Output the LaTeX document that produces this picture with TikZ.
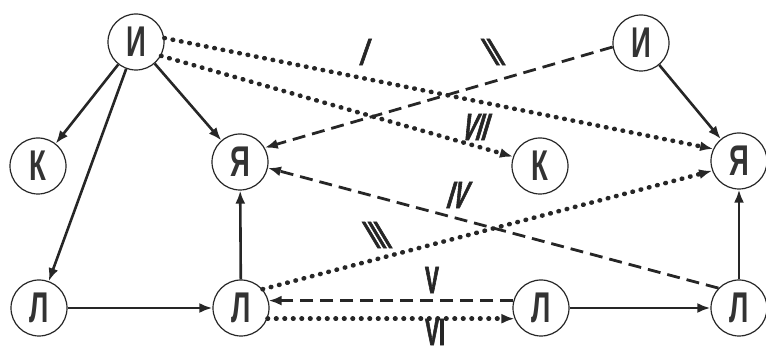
\documentclass[tikz,border=0pt]{standalone}
\usepackage{fontspec}
\usetikzlibrary{arrows.meta}
\newfontfamily\letfont[FakeStretch=0.64]{Liberation Sans}
\newfontfamily\numfont[FakeStretch=0.55,FakeBold=1.5]{Liberation Sans}

\tikzset{
	vert/.style={circle, draw=black!85, line width=1.2pt, minimum size=56pt, inner sep=0pt,
		font=\letfont\bfseries\fontsize{43}{43}\selectfont, text=black!80},
	solid arr/.style={-{Latex[length=13pt,width=10pt]}, line width=2.6pt, draw=black!85},
	dotted arr/.style={-{Latex[length=13pt,width=10pt]}, line width=4.6pt, line cap=round,
		dash pattern=on 0.5pt off 8pt, draw=black!85},
	dashed arr/.style={-{Latex[length=13pt,width=10pt]}, line width=2.8pt,
		dash pattern=on 13pt off 7pt, draw=black!85},
	lab/.style={font=\numfont\bfseries\fontsize{38}{38}\selectfont, text=black!85, inner sep=0pt},
	lean/.style={lab, font=\numfont\bfseries\fontsize{38}{38}\selectfont\addfontfeatures{FakeSlant=#1}}
}

\begin{document}
\begin{tikzpicture}[x=1pt,y=-1pt]
	\useasboundingbox (0,0) rectangle (766,352);
	\node[vert] (i1) at (136,42) {И};
	\node[vert] (k1) at (38,166) {К};
	\node[vert] (ya1) at (240,162) {Я};
	\node[vert] (l1) at (39,308) {Л};
	\node[vert] (l2) at (241,308) {Л};
	\node[vert] (i2) at (641,43) {И};
	\node[vert] (k2) at (540,166) {К};
	\node[vert] (ya2) at (739,161) {Я};
	\node[vert] (l3) at (541,308) {Л};
	\node[vert] (l4) at (739,308) {Л};

	\draw[solid arr] (i1) -- (k1);
	\draw[solid arr] (i1) -- (l1);
	\draw[solid arr] (i1) -- (ya1);
	\draw[solid arr] (l1) -- (l2);
	\draw[solid arr] (l2) -- (ya1);
	\draw[solid arr] (i2) -- (ya2);
	\draw[solid arr] (l3) -- (l4);
	\draw[solid arr] (l4) -- (ya2);

	\draw[dotted arr] (i1.8) -- (ya2.155);
	\draw[dotted arr] (i1.-29) -- (k2.161);
	\draw[dashed arr] (i2.188) -- (ya1.30);
	\draw[dashed arr] (l4.136) -- (ya1.-12);
	\draw[dotted arr] (l2.41) -- (ya2.200);
	\draw[dashed arr] (l3.165) -- (l2.15);
	\draw[dotted arr] (l2.-22) -- (l3.-158);

	\node[lean=0.35] (n1) at (361,52) {I};
	\node[lean=-0.6] (n2) at (501,52) {II};
	\node[lean=-0.6] (n3) at (385,235) {III};
	\node[lean=0.3] (n4) at (455,195) {IV};
	\node[lab] (n5) at (432,280) {V};
	\node[lab] (n6) at (435,332) {VI};
	\node[lean=0.3] (n7) at (473,127) {VII};
\end{tikzpicture}
\end{document}
